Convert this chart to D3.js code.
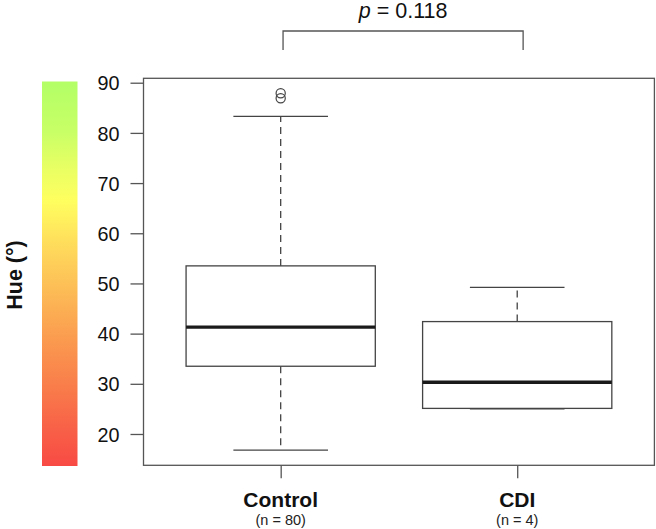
<!DOCTYPE html>
<html>
<head>
<meta charset="utf-8">
<script src="https://cdn.jsdelivr.net/npm/d3@7"></script>
<style>
  html, body { margin: 0; padding: 0; background: #fff; }
  svg { display: block; font-family: "Liberation Sans", Arial, Helvetica, sans-serif; }
</style>
</head>
<body>
<svg id="chart" width="656" height="529"></svg>
<script>
// ---- data ----
const categories = ["Control", "CDI"];
const nLabels = ["(n = 80)", "(n = 4)"];
const whiskerLow = [16.8, 25.0];
const q1 = [33.5, 25.1];
const median = [41.3, 30.3];
const q3 = [53.5, 42.4];
const whiskerHigh = [83.3, 49.2];
const outliers = [[87.9, 86.9], []];
const yTicks = [20, 30, 40, 50, 60, 70, 80, 90];
const yLabel = "Hue (°)";
const pText = "0.118";
const bracketPos = [1.01, 2.025];
const colorStops = ["#b3ff66", "#c8ff66", "#eaff63", "#ffff5f", "#ffe05c", "#fdc257", "#fba050", "#f9804b", "#f85f47", "#f84a44"];
const colorOffsets = [0, 0.13, 0.23, 0.31, 0.41, 0.52, 0.65, 0.78, 0.91, 1];

// ---- layout ----
const svg = d3.select("#chart");
const plot = { left: 143.5, right: 654.4, top: 78.3, bottom: 465.3 };
const x = d3.scaleLinear().domain([0.42, 2.58]).range([plot.left, plot.right]);
const y = d3.scaleLinear().domain([13.76, 90.88]).range([plot.bottom, plot.top]);
const boxHalf = 0.4, capHalf = 0.2;
const lineCol = "#444";

// colorbar
const defs = svg.append("defs");
const grad = defs.append("linearGradient").attr("id", "hueGrad")
  .attr("x1", 0).attr("y1", 0).attr("x2", 0).attr("y2", 1);
grad.selectAll("stop").data(colorStops).join("stop")
  .attr("offset", (d, i) => colorOffsets[i])
  .attr("stop-color", d => d);
svg.append("rect").attr("x", 42).attr("y", 81.5).attr("width", 35.5).attr("height", 384.5)
  .attr("fill", "url(#hueGrad)");

// y label
svg.append("text")
  .attr("transform", "translate(22,275) rotate(-90)")
  .attr("text-anchor", "middle")
  .attr("font-weight", "bold").attr("font-size", 21.5)
  .attr("fill", "#111")
  .text(yLabel);

// y axis
const yAxis = svg.append("g").attr("transform", `translate(${plot.left},0)`)
  .call(d3.axisLeft(y).tickValues(yTicks).tickSize(13).tickPadding(11));
yAxis.select(".domain").remove();
yAxis.selectAll("line").attr("stroke", "#555").attr("stroke-width", 1.3);
yAxis.selectAll("text").attr("font-size", 19.8).attr("fill", "#111")
  .attr("font-family", "Liberation Sans, Arial, sans-serif").attr("dy", "0.36em");

// x axis
const xAxis = svg.append("g").attr("transform", `translate(0,${plot.bottom})`)
  .call(d3.axisBottom(x).tickValues([1, 2]).tickSize(13).tickFormat(""));
xAxis.select(".domain").remove();
xAxis.selectAll("line").attr("stroke", "#555").attr("stroke-width", 1.3);

svg.selectAll("text.cat").data(categories).join("text").attr("class", "cat")
  .attr("x", (d, i) => x(i + 1)).attr("y", 506.5)
  .attr("text-anchor", "middle").attr("font-weight", "bold").attr("font-size", 21)
  .attr("fill", "#111").text(d => d);
svg.selectAll("text.nlab").data(nLabels).join("text").attr("class", "nlab")
  .attr("x", (d, i) => x(i + 1)).attr("y", 524.5)
  .attr("text-anchor", "middle").attr("font-size", 14.5)
  .attr("fill", "#222").text(d => d);

// plot frame
svg.append("rect").attr("x", plot.left).attr("y", plot.top)
  .attr("width", plot.right - plot.left).attr("height", plot.bottom - plot.top)
  .attr("fill", "none").attr("stroke", "#555").attr("stroke-width", 1.3);

// boxes
const g = svg.append("g");
categories.forEach((c, i) => {
  const p = i + 1;
  // whiskers (dashed)
  g.append("line").attr("x1", x(p)).attr("x2", x(p)).attr("y1", y(q3[i])).attr("y2", y(whiskerHigh[i]))
    .attr("stroke", lineCol).attr("stroke-width", 1.3).attr("stroke-dasharray", "7,5");
  g.append("line").attr("x1", x(p)).attr("x2", x(p)).attr("y1", y(q1[i])).attr("y2", y(whiskerLow[i]))
    .attr("stroke", lineCol).attr("stroke-width", 1.3).attr("stroke-dasharray", "7,5");
  // caps
  [whiskerHigh[i], whiskerLow[i]].forEach(v => {
    g.append("line").attr("x1", x(p - capHalf)).attr("x2", x(p + capHalf)).attr("y1", y(v)).attr("y2", y(v))
      .attr("stroke", lineCol).attr("stroke-width", 1.3);
  });
  // box
  g.append("rect").attr("x", x(p - boxHalf)).attr("y", y(q3[i]))
    .attr("width", x(p + boxHalf) - x(p - boxHalf)).attr("height", y(q1[i]) - y(q3[i]))
    .attr("fill", "#fff").attr("stroke", lineCol).attr("stroke-width", 1.3);
  // median
  g.append("line").attr("x1", x(p - boxHalf)).attr("x2", x(p + boxHalf)).attr("y1", y(median[i])).attr("y2", y(median[i]))
    .attr("stroke", "#1a1a1a").attr("stroke-width", 3.4);
  // outliers
  g.selectAll(null).data(outliers[i]).join("circle")
    .attr("cx", x(p)).attr("cy", d => y(d)).attr("r", 4.6)
    .attr("fill", "none").attr("stroke", lineCol).attr("stroke-width", 1.2);
});

// significance bracket
const bTop = 31, bBot = 50;
svg.append("path")
  .attr("d", `M${x(bracketPos[0])},${bBot}V${bTop}H${x(bracketPos[1])}V${bBot}`)
  .attr("fill", "none").attr("stroke", "#555").attr("stroke-width", 1.3);
const pt = svg.append("text").attr("x", (x(bracketPos[0]) + x(bracketPos[1])) / 2).attr("y", 18.3)
  .attr("text-anchor", "middle").attr("font-size", 21.5).attr("fill", "#111");
pt.append("tspan").attr("font-style", "italic").text("p");
pt.append("tspan").text(" = " + pText);
</script>
</body>
</html>
